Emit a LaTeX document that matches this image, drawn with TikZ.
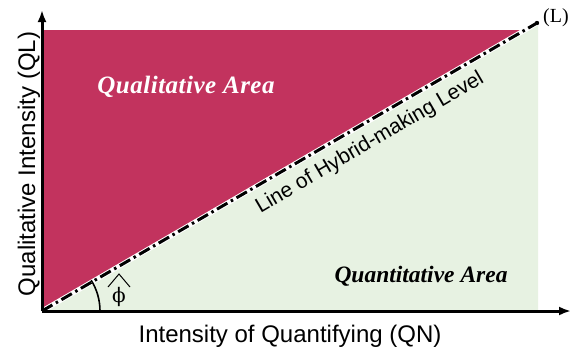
\documentclass[tikz,border=0pt]{standalone}
\usepackage{fontspec}
\setmainfont{Liberation Serif}
\setsansfont{Liberation Sans}
\newfontfamily\greekserif{DejaVu Serif}
\usetikzlibrary{arrows.meta}
\definecolor{crimson}{RGB}{194,51,94}
\definecolor{palegreen}{RGB}{231,242,226}
\tikzset{
  axis/.style={line width=3pt,-{Latex[length=12pt,width=9pt]}},
  arealabel/.style={font=\bfseries\itshape, anchor=base},
  axislabel/.style={font=\sffamily\fontsize{24}{28}\selectfont, anchor=base},
  hybrid/.style={line width=3pt, dash pattern=on 12pt off 4pt on 2.5pt off 4pt},
}
\begin{document}
\begin{tikzpicture}[x=1pt,y=-1pt]
\useasboundingbox (0,0) rectangle (571,351);
\coordinate (O) at (42,311);
\coordinate (L) at (537,23);
\coordinate (Ytop) at (42,10);
\coordinate (Xend) at (571,311);
% areas
\fill[palegreen] (42,311) -- (538,311) -- (538,23) -- cycle;
\fill[crimson] (42,311) -- (42,30) -- (525,30) -- cycle;
% hybrid line
\draw[white,line width=5pt] (O) -- (L);
\draw[hybrid] (O) -- (L);
\fill (L) circle (2.2pt);
% axes
\draw[axis] (O) -- (Ytop);
\draw[axis] (O) -- (Xend);
% angle
\draw[line width=1.6pt] ([shift={(0:58)}]O) arc[start angle=0, end angle=-32, radius=58];
\node[font=\greekserif\fontsize{20}{22}\selectfont] (phi) at (119,297) {ϕ};
\draw[line width=1pt] (108,287) -- (119,274) -- (130,287);
% labels
\node[arealabel, text=white, font=\fontsize{25}{28}\selectfont\bfseries\itshape] (qual) at (186,93) {\addfontfeature{LetterSpace=2}Qualitative Area};
\node[arealabel, font=\fontsize{23.5}{28}\selectfont\bfseries\itshape] (quant) at (421,282) {Quantitative Area};
\node[axislabel] (xlab) at (290,342) {Intensity of Quantifying (QN)};
\node[axislabel, rotate=90] (ylab) at (35,164) {Qualitative Intensity (QL)};
\node[font=\sffamily\fontsize{21}{24}\selectfont, rotate=30.4] (hyb) at (370,143) {Line of Hybrid-making Level};
\node[font=\fontsize{20}{22}\selectfont] (Llab) at (556,18) {(L)};
\end{tikzpicture}
\end{document}
